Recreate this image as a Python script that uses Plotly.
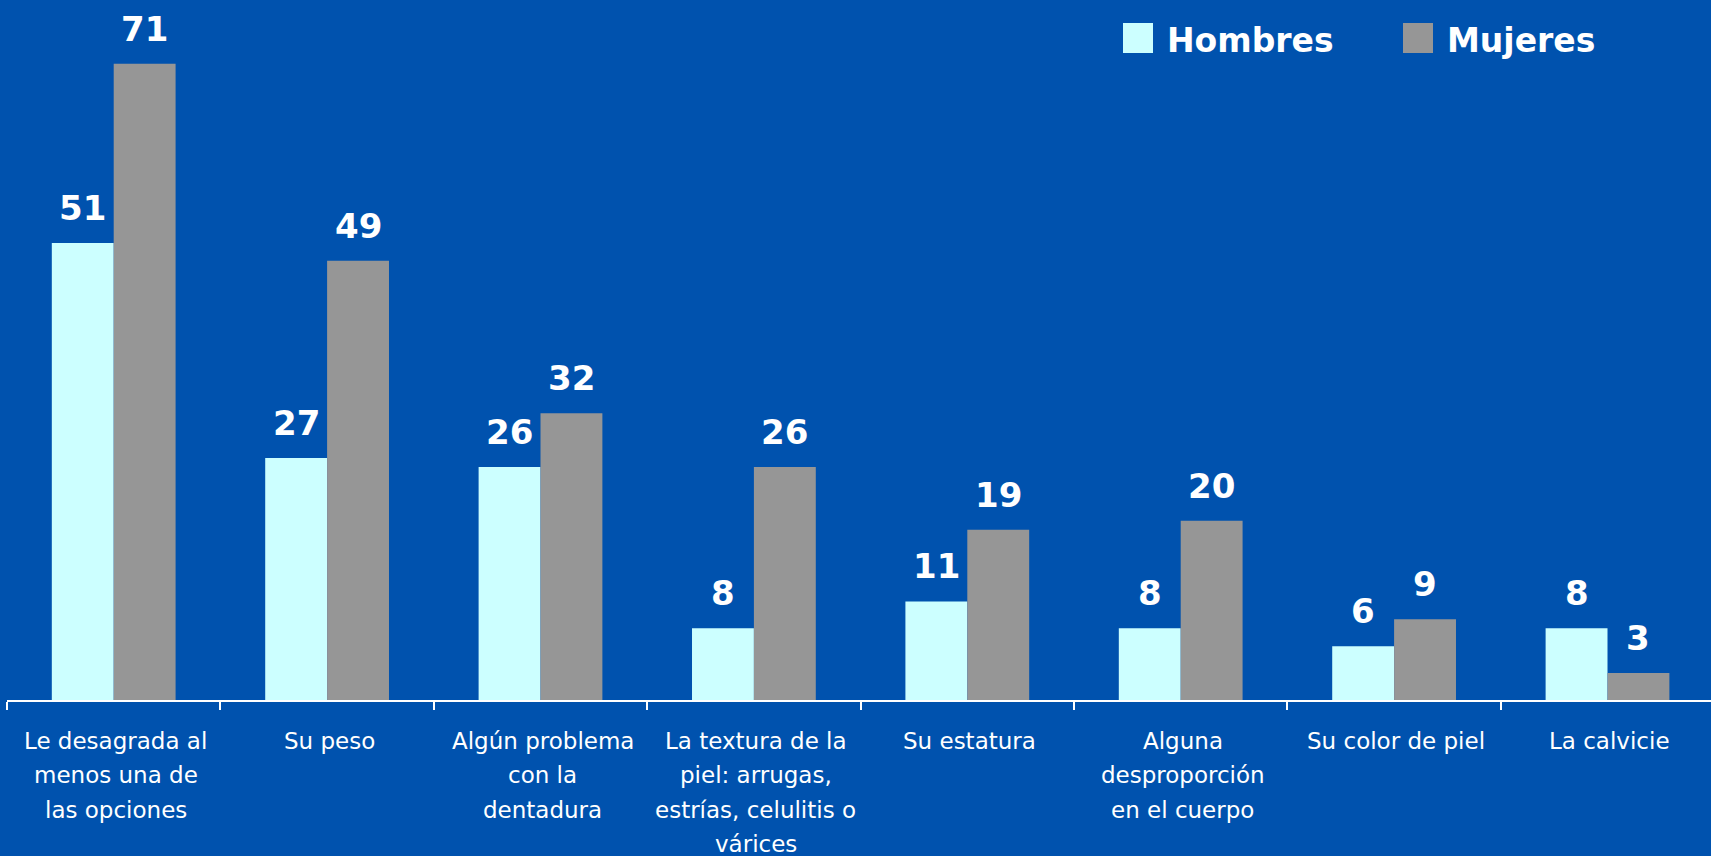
import plotly.graph_objects as go

categories = [
    "Le desagrada al<br>menos una de<br>las opciones",
    "Su peso",
    "Algún problema<br>con la<br>dentadura",
    "La textura de la<br>piel: arrugas,<br>estrías, celulitis o<br>várices",
    "Su estatura",
    "Alguna<br>desproporción<br>en el cuerpo",
    "Su color de piel",
    "La calvicie",
]
hombres = [51, 27, 26, 8, 11, 8, 6, 8]
mujeres = [71, 49, 32, 26, 19, 20, 9, 3]
series_names = ["Hombres", "Mujeres"]

BG = "#0052AE"
C_H = "#CCFFFF"
C_M = "#969696"
FONT = "DejaVu Sans"

W, H = 1711, 856
ML, MR, MT, MB = 7, 0, 0, 156
plot_w = W - ML - MR
plot_h = H - MT - MB
x_range = [-0.5, 7.485]
y_range = [0, 78.1]
bargap = 0.42
cat_px = plot_w / (x_range[1] - x_range[0])
half_bar_px = (1 - bargap) / 2 * cat_px / 2

xs = list(range(len(categories)))

fig = go.Figure()
fig.add_trace(go.Bar(x=xs, y=hombres, name=series_names[0], marker=dict(color=C_H, line=dict(width=0))))
fig.add_trace(go.Bar(x=xs, y=mujeres, name=series_names[1], marker=dict(color=C_M, line=dict(width=0))))

annotations = []
# value labels
for i in xs:
    for val, sgn in ((hombres[i], -1), (mujeres[i], 1)):
        annotations.append(dict(
            x=i, y=val, xref="x", yref="y", text=f"<b>{val}</b>", showarrow=False,
            xanchor="center", yanchor="bottom", xshift=sgn * half_bar_px, yshift=13,
            font=dict(family=FONT, size=34, color="white"),
        ))
# category labels, one annotation per line
for i, cat in enumerate(categories):
    for j, line in enumerate(cat.split("<br>")):
        annotations.append(dict(
            x=i, y=0, xref="x", yref="y", text=line, showarrow=False,
            xanchor="center", yanchor="top", xshift=2, yshift=-26 - 34.3 * j,
            font=dict(family=FONT, size=23, color="white"),
        ))

# legend (custom, larger swatches)
def px_x(p):
    return (p - ML) / plot_w

def px_y(p):
    return (MT + plot_h - p) / plot_h

shapes = []
legend_items = [(series_names[0], C_H, 1123, 1165), (series_names[1], C_M, 1403, 1445)]
for name, col, sx, tx in legend_items:
    shapes.append(dict(type="rect", xref="paper", yref="paper",
                       x0=px_x(sx), x1=px_x(sx + 30), y0=px_y(53), y1=px_y(23),
                       fillcolor=col, line=dict(width=0)))
    annotations.append(dict(
        x=px_x(tx), y=px_y(62), xref="paper", yref="paper", text=f"<b>{name}</b>",
        showarrow=False, xanchor="left", yanchor="bottom",
        font=dict(family=FONT, size=33, color="white"),
    ))

fig.update_layout(
    width=W, height=H,
    margin=dict(l=ML, r=MR, t=MT, b=MB),
    paper_bgcolor=BG, plot_bgcolor=BG,
    barmode="group", bargap=bargap, bargroupgap=0,
    showlegend=False,
    annotations=annotations,
    shapes=shapes,
    xaxis=dict(
        type="linear", range=x_range, showgrid=False, zeroline=False,
        showline=True, linecolor="white", linewidth=2,
        tickmode="array", tickvals=[k - 0.5 for k in range(len(categories) + 1)],
        ticks="outside", ticklen=8, tickwidth=2, tickcolor="white",
        showticklabels=False,
    ),
    yaxis=dict(range=y_range, visible=False, showgrid=False, zeroline=False),
)

fig.write_html(
    "out.html",
    config={"displayModeBar": False},
    post_script="document.body.style.margin='0';document.body.style.overflow='hidden';document.body.style.background='" + BG + "';",
)
